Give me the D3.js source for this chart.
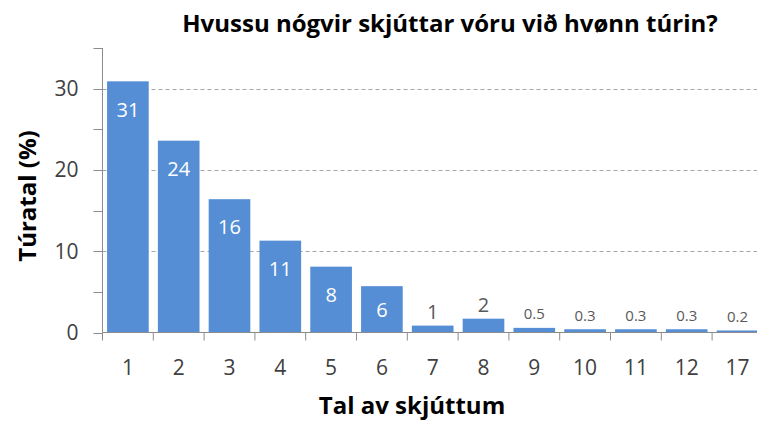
<!DOCTYPE html>
<html>
<head>
<meta charset="utf-8">
<script src="https://cdn.jsdelivr.net/npm/d3@7"></script>
<style>
	body { margin: 0; background: #fff; }
	svg { display: block; font-family: "Open Sans", Lato, sans-serif; }
</style>
</head>
<body>
<script>
// categories (number of shots) and share of trips in percent
var categories = ["1", "2", "3", "4", "5", "6", "7", "8", "9", "10", "11", "12", "17"];
var values = [30.9, 23.6, 16.4, 11.3, 8.1, 5.7, 0.85, 1.7, 0.57, 0.4, 0.4, 0.4, 0.25];
var labels = ["31", "24", "16", "11", "8", "6", "1", "2", "0.5", "0.3", "0.3", "0.3", "0.2"];
var yTicks = [0, 10, 20, 30];
var yMinorTicks = [5, 15, 25, 35];

var title = "Hvussu nógvir skjúttar vóru við hvønn túrin?";
var xTitle = "Tal av skjúttum";
var yTitle = "Túratal (%)";

// dimensions
var W = 757, H = 421;
var plotLeft = 102.5, plotTop = 48, plotBottom = 332.5;
var plotRight = plotLeft + categories.length * 50.8;

var svg = d3.select("body").append("svg")
	.attr("width", W)
	.attr("height", H);

var x = d3.scaleBand()
	.domain(categories)
	.range([plotLeft, plotRight])
	.paddingInner(0.18)
	.paddingOuter(0.09);

// band boundaries for the tick marks
var xb = d3.scaleBand().domain(categories).range([plotLeft, plotRight]);

var y = d3.scaleLinear().domain([0, 35]).range([plotBottom, plotTop]);

// dashed gridlines
svg.append("g")
	.selectAll("line")
	.data(yTicks.filter(function(d) { return d > 0; }))
	.join("line")
	.attr("x1", plotLeft)
	.attr("x2", W)
	.attr("y1", function(d) { return Math.round(y(d)) + 0.5; })
	.attr("y2", function(d) { return Math.round(y(d)) + 0.5; })
	.attr("stroke", "#a6a6a6")
	.attr("stroke-width", 1)
	.attr("stroke-dasharray", "4,3");

// bars
svg.append("g")
	.selectAll("rect")
	.data(values)
	.join("rect")
	.attr("x", function(d, i) { return x(categories[i]); })
	.attr("y", function(d) { return y(d); })
	.attr("width", x.bandwidth())
	.attr("height", function(d) { return plotBottom - y(d); })
	.attr("fill", "#558ed5");

// y axis
var yAxis = svg.append("g").attr("transform", "translate(" + plotLeft + ",0)");
yAxis.append("line")
	.attr("x1", 0).attr("x2", 0)
	.attr("y1", y(35)).attr("y2", plotBottom)
	.attr("stroke", "#8c8c8c");
yAxis.selectAll(".tk")
	.data(yTicks.concat(yMinorTicks))
	.join("line")
	.attr("x1", -9).attr("x2", 0)
	.attr("y1", function(d) { return Math.round(y(d)) + 0.5; })
	.attr("y2", function(d) { return Math.round(y(d)) + 0.5; })
	.attr("stroke", "#8c8c8c");
yAxis.selectAll("text")
	.data(yTicks)
	.join("text")
	.attr("x", -24)
	.attr("y", function(d) { return y(d); })
	.attr("dy", "0.36em")
	.attr("text-anchor", "end")
	.attr("font-size", 21)
	.attr("fill", "#404040")
	.text(function(d) { return d; });

// x axis
var xAxis = svg.append("g");
xAxis.append("line")
	.attr("x1", plotLeft).attr("x2", W)
	.attr("y1", plotBottom).attr("y2", plotBottom)
	.attr("stroke", "#8c8c8c");
xAxis.selectAll(".tk")
	.data(categories)
	.join("line")
	.attr("x1", function(d) { return xb(d); })
	.attr("x2", function(d) { return xb(d); })
	.attr("y1", plotBottom).attr("y2", plotBottom + 8)
	.attr("stroke", "#8c8c8c");
xAxis.selectAll("text")
	.data(categories)
	.join("text")
	.attr("x", function(d) { return x(d) + x.bandwidth() / 2; })
	.attr("y", 367)
	.attr("dy", "0.36em")
	.attr("text-anchor", "middle")
	.attr("font-size", 21)
	.attr("fill", "#404040")
	.text(function(d) { return d; });

// value labels: white inside the tall bars, grey above the short ones
svg.append("g")
	.selectAll("text")
	.data(values)
	.join("text")
	.attr("x", function(d, i) { return x(categories[i]) + x.bandwidth() / 2; })
	.attr("y", function(d) {
		if (d >= 5) return Math.min(y(d) + 28, (y(d) + plotBottom) / 2);
		return y(d) - 14;
	})
	.attr("dy", "0.36em")
	.attr("text-anchor", "middle")
	.attr("font-size", function(d, i) { return labels[i].indexOf(".") < 0 ? 20 : 15; })
	.attr("fill", function(d) { return d >= 5 ? "#ffffff" : "#595959"; })
	.text(function(d, i) { return labels[i]; });

// titles
svg.append("text")
	.attr("x", 450)
	.attr("y", 32)
	.attr("text-anchor", "middle")
	.attr("font-size", 24)
	.attr("font-weight", "bold")
	.attr("fill", "#000")
	.text(title);

svg.append("text")
	.attr("x", 412)
	.attr("y", 414)
	.attr("text-anchor", "middle")
	.attr("font-size", 24)
	.attr("font-weight", "bold")
	.attr("fill", "#000")
	.text(xTitle);

svg.append("text")
	.attr("transform", "translate(36,196) rotate(-90)")
	.attr("text-anchor", "middle")
	.attr("font-size", 24)
	.attr("font-weight", "bold")
	.attr("fill", "#000")
	.text(yTitle);
</script>
</body>
</html>
